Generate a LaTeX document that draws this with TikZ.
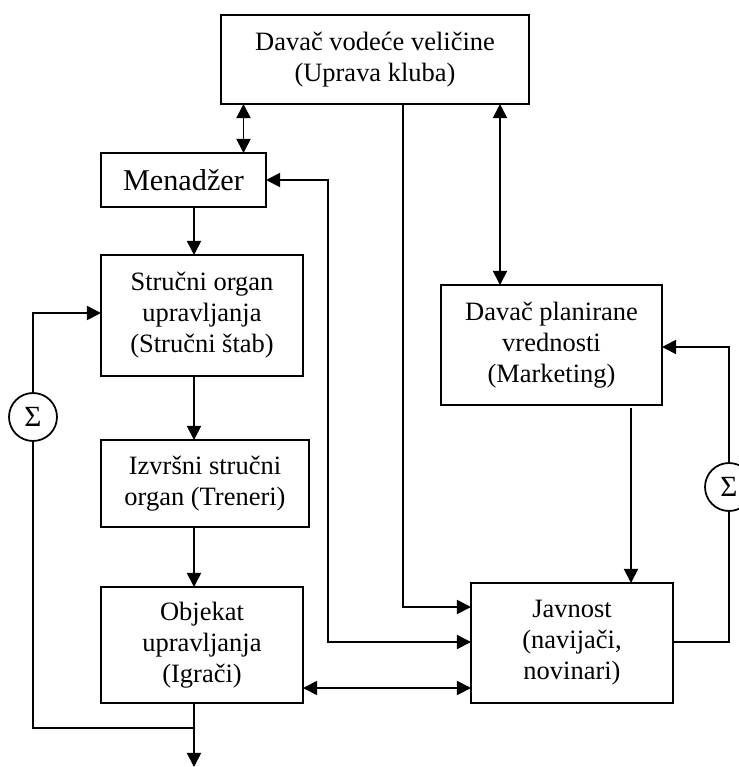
\documentclass[tikz,border=0pt]{standalone}
\usepackage{fontspec}
\setmainfont{Liberation Serif}
\usetikzlibrary{arrows.meta, positioning}
\tikzstyle{block} = [rectangle, draw=black, line width=1.8pt, inner sep=0pt, outer sep=0pt, align=center, font=\fontsize{22.6}{26.4}\selectfont]
\tikzstyle{sumnode} = [circle, draw=black, line width=1.5pt, minimum size=1.44cm, inner sep=0pt, outer sep=0pt, font=\fontsize{25}{27}\selectfont]
\tikzstyle{line} = [line width=1.5pt]
\tikzstyle{arrow} = [line width=1.5pt, -{Triangle[length=12pt, width=12pt]}]
\tikzstyle{dblarrow} = [line width=1.5pt, {Triangle[length=12pt, width=12pt]}-{Triangle[length=12pt, width=12pt]}]

\begin{document}
\begin{tikzpicture}[x=0.03cm, y=-0.03cm]
\useasboundingbox (0,0) rectangle (739,767);
% Top
\node (uprava) [block, minimum width=9.24cm, minimum height=2.67cm] at (375,59.5) {Davač vodeće veličine \\ (Uprava kluba)};
% Left column
\node (mgr) [block, minimum width=4.95cm, minimum height=1.62cm, font=\fontsize{25.8}{30}\selectfont] at (183.5,180) {Menadžer};
\node (strucni) [block, minimum width=6.06cm, minimum height=3.63cm] at (202,315.5) {Stručni organ \\ upravljanja \\ (Stručni štab)};
\node (izvrsni) [block, minimum width=6.24cm, minimum height=2.61cm] at (205,483.5) {Izvršni stručni \\ organ (Treneri)};
\node (objekat) [block, minimum width=6.06cm, minimum height=3.48cm] at (202,645) {Objekat \\ upravljanja \\ (Igrači)};
% Right column
\node (marketing) [block, minimum width=6.63cm, minimum height=3.6cm] at (551.5,345) {Davač planirane \\ vrednosti \\ (Marketing)};
\node (javnost) [block, minimum width=6.06cm, minimum height=3.6cm] at (572,643) {Javnost \\ (navijači, \\ novinari)};
% Summing points
\node (sumL) [sumnode] at (33,417) {Σ};
\node (sumR) [sumnode] at (729,487) {Σ};
\coordinate (out) at (194,767);
\coordinate (join) at (194,728);

% Arrows
\draw [dblarrow] (uprava.south -| 243.5,0) -- (mgr.north -| 243.5,0);
\draw [dblarrow] (uprava.south -| 500,0) -- (marketing.north -| 500,0);
\draw [arrow] (uprava.south -| 403,0) |- (javnost.west |- 0,607);
\draw [dblarrow] (mgr.east) -- ++(62,0) |- (javnost.west |- 0,642);
\draw [arrow] (mgr.south -| 194,0) -- (strucni.north -| 194,0);
\draw [arrow] (strucni.south -| 194,0) -- (izvrsni.north -| 194,0);
\draw [arrow] (izvrsni.south -| 194,0) -- (objekat.north -| 194,0);
\draw [arrow] (objekat.south -| 194,0) -- (out);
\draw [dblarrow] (objekat.east |- 0,688) -- (javnost.west |- 0,688);
\draw [arrow] ([yshift=-0.1cm]marketing.south -| 631,0) -- (javnost.north -| 631,0);
% Feedback loops
\draw [line] (join) -| (sumL.south);
\draw [arrow] (sumL.north) |- (strucni.west |- 0,313);
\draw [line] (javnost.east |- 0,642) -| (sumR.south);
\draw [arrow] (sumR.north) |- (marketing.east |- 0,347);
\end{tikzpicture}
\end{document}
